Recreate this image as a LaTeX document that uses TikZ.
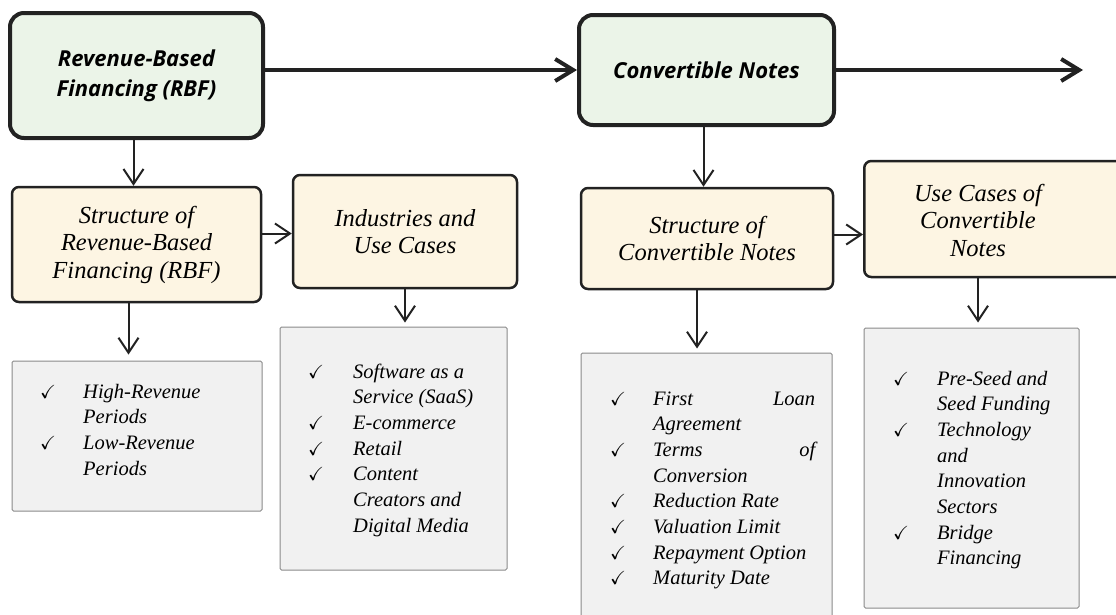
\documentclass[tikz,border=0pt]{standalone}
\usepackage{amssymb}
\usepackage{fontspec}
\usetikzlibrary{arrows.meta}
\setmainfont{Liberation Serif}[ItalicFont={Liberation Serif Italic}]
\newfontfamily\headfont{Open Sans}

\definecolor{topfill}{HTML}{EBF4E8}
\definecolor{midfill}{HTML}{FDF5E3}
\definecolor{listfill}{HTML}{F1F1F1}
\definecolor{ink}{HTML}{222222}
\definecolor{listedge}{HTML}{8A8A8A}

\newcommand\tick{{\fontsize{19}{19}\selectfont$\checkmark$}}

\tikzset{
  topbox/.style={draw=ink, line width=4pt, fill=topfill, rounded corners=14pt,
    align=center, inner sep=0pt,
    font=\headfont\bfseries\itshape\fontsize{22}{30}\selectfont},
  midbox/.style={draw=ink, line width=2.5pt, fill=midfill, rounded corners=7pt,
    align=center, inner sep=0pt,
    font=\itshape\fontsize{24.5}{27.5}\selectfont},
  midlabel/.style={align=center, inner sep=0pt,
    font=\itshape\fontsize{24.5}{27.5}\selectfont},
  listbox/.style={draw=listedge, line width=1pt, fill=listfill,
    rounded corners=1.5pt, inner sep=0pt},
  listtext/.style={anchor=base west, inner sep=0pt,
    font=\itshape\fontsize{20.5}{25.7}\selectfont},
  bigarrow/.style={line width=4pt, draw=ink,
    -{Straight Barb[length=18pt,width=22pt]}},
  smallarrow/.style={line width=2pt, draw=ink,
    -{Straight Barb[length=15pt,width=20pt]}},
}

\begin{document}
\begin{tikzpicture}[x=1pt, y=-1pt]
\useasboundingbox (0,0) rectangle (1116,614);
\clip (0,0) rectangle (1116,614);

% top row
\node[topbox, minimum width=253pt, minimum height=125pt] (rbf) at (136.5,75.5)
  {Revenue-Based\\Financing (RBF)};
\node[topbox, minimum width=255pt, minimum height=110pt] (cn) at (706.5,70)
  {Convertible Notes};
\coordinate (cnend) at (1083,70);

% second row
\node[midbox, minimum width=249pt, minimum height=115pt] (srbf) at (136.5,244.5)
  {Structure of\\Revenue-Based\\Financing (RBF)};
\node[midbox, minimum width=224pt, minimum height=113pt] (ind) at (405,231.5)
  {Industries and\\Use Cases};
\node[midbox, minimum width=252pt, minimum height=101pt] (scn) at (707,238.5)
  {Structure of\\Convertible Notes};
\node[midbox, anchor=west, minimum width=262pt, minimum height=116pt] (ucnbox) at (863,219) {};
\node[midlabel] (ucn) at (978,220) {Use Cases of\\Convertible\\Notes};

% list boxes
\node[listbox, minimum width=250pt, minimum height=150pt] (l1) at (137,436) {};
\node[listbox, minimum width=227pt, minimum height=243pt] (l2) at (393.5,448.5) {};
\node[listbox, minimum width=251pt, minimum height=267pt] (l3) at (706.5,486.5) {};
\node[listbox, minimum width=215pt, minimum height=280pt] (l4) at (971.5,468) {};

\node[listtext] (l1t) at (40,398) {\begin{tabular}[t]{@{}p{43pt}@{}l@{}}
\tick & High-Revenue\\
      & Periods\\
\tick & Low-Revenue\\
      & Periods
\end{tabular}};

\node[listtext] (l2t) at (308,378) {\begin{tabular}[t]{@{}p{45pt}@{}l@{}}
\tick & Software as a\\
      & Service (SaaS)\\
\tick & E-commerce\\
\tick & Retail\\
\tick & Content\\
      & Creators and\\
      & Digital Media
\end{tabular}};

\node[listtext] (l3t) at (610,405) {\begin{tabular}[t]{@{}p{43pt}@{}l@{}}
\tick & \makebox[162pt][l]{First\hfill Loan}\\
      & Agreement\\
\tick & \makebox[162pt][l]{Terms\hfill of}\\
      & Conversion\\
\tick & Reduction Rate\\
\tick & Valuation Limit\\
\tick & Repayment Option\\
\tick & Maturity Date
\end{tabular}};

\node[listtext] (l4t) at (893,385) {\begin{tabular}[t]{@{}p{44pt}@{}l@{}}
\tick & Pre-Seed and\\
      & Seed Funding\\
\tick & Technology\\
      & and\\
      & Innovation\\
      & Sectors\\
\tick & Bridge\\
      & Financing
\end{tabular}};

% connectors
\draw[bigarrow] (rbf.east |- cn.west) -- (cn.west);
\draw[bigarrow] (cn.east) -- (cnend);

\draw[smallarrow] ([xshift=-3pt]rbf.south) -- ([xshift=-3pt]rbf.south |- srbf.north);
\draw[smallarrow] ([xshift=-3pt]cn.south) -- ([xshift=-3pt]cn.south |- scn.north);
\draw[smallarrow] ([yshift=-2pt]srbf.east |- ind.west) -- ([yshift=-2pt]ind.west);
\draw[smallarrow] ([yshift=4pt]scn.east) -- ([yshift=4pt]scn.east -| ucnbox.west);

\draw[smallarrow, shorten >=6pt] ([xshift=-8pt]srbf.south) -- ([xshift=-8pt]srbf.south |- l1.north);
\draw[smallarrow, shorten >=4pt] (ind.south) -- (ind.south |- l2.north);
\draw[smallarrow, shorten >=4pt] ([xshift=-10pt]scn.south) -- ([xshift=-10pt]scn.south |- l3.north);
\draw[smallarrow, shorten >=5pt] (ucn |- ucnbox.south) -- (ucn |- l4.north);
\end{tikzpicture}
\end{document}
